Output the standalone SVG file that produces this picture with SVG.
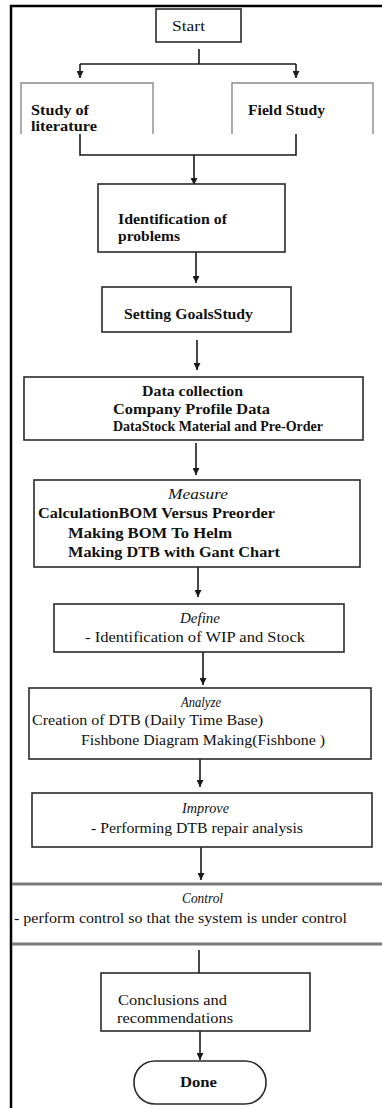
<svg xmlns="http://www.w3.org/2000/svg" width="382" height="1108" viewBox="0 0 382 1108">
<style>
.box{fill:#fff;stroke:#2a2a2a;stroke-width:1.6}
.lbox{fill:none;stroke:#8a8a8a;stroke-width:1.4}
.ctl{fill:none;stroke:#7a7a7a;stroke-width:3}
.b{font-family:"Liberation Serif",serif;font-weight:bold;font-size:15px;fill:#111}
.r{font-family:"Liberation Serif",serif;font-size:15px;fill:#111}
.i{font-family:"Liberation Serif",serif;font-style:italic;font-size:14px;fill:#111}
.c{stroke:#1a1a1a;stroke-width:1.6;fill:none}
.a{marker-end:url(#arr)}
</style>
<defs>
<marker id="arr" markerUnits="userSpaceOnUse" markerWidth="7" markerHeight="7" refX="7" refY="3.5" orient="auto">
<path d="M0,0 L7,3.5 L0,7 z" fill="#1a1a1a"/>
</marker>
</defs>
<rect width="382" height="1108" fill="#fff"/>
<path d="M11,1108 V6 H382" fill="none" stroke="#000" stroke-width="2.5"/>
<g id="connectors">
<path class="c" d="M199,49 V64 M80,64 H296"/>
<path class="c a" d="M80,64 V78"/>
<path class="c a" d="M296,64 V78"/>
<path class="c" d="M80,134 V155 H296 V134"/>
<path class="c a" d="M194,155 V185"/>
<path class="c a" d="M196,252 V283"/>
<path class="c a" d="M197,340 V370"/>
<path class="c a" d="M196,443 V475"/>
<path class="c a" d="M198,567 V597"/>
<path class="c a" d="M203,652 V685"/>
<path class="c a" d="M200,759 V787"/>
<path class="c a" d="M201,847 V880"/>
<path class="c a" d="M199,950 V983"/>
<path class="c a" d="M200,1031 V1060"/>
</g>
<g id="start">
<rect class="box" x="156" y="9" width="85" height="33"/>
<text class="r" x="172" y="31" font-size="16" textLength="33" lengthAdjust="spacingAndGlyphs">Start</text>
</g>
<g id="literature">
<path class="lbox" d="M21,134 V83 H153 V134"/>
<text class="b" x="31" y="115" textLength="58" lengthAdjust="spacingAndGlyphs">Study of</text>
<text class="b" x="31" y="131" textLength="66" lengthAdjust="spacingAndGlyphs">literature</text>
</g>
<g id="field">
<path class="lbox" d="M232,134 V83 H373 V134"/>
<text class="b" x="248" y="115" textLength="77" lengthAdjust="spacingAndGlyphs">Field Study</text>
</g>
<g id="identification">
<rect class="box" x="98" y="184" width="187" height="68"/>
<text class="b" x="118" y="224" textLength="109" lengthAdjust="spacingAndGlyphs">Identification of</text>
<text class="b" x="118" y="241" textLength="62" lengthAdjust="spacingAndGlyphs">problems</text>
</g>
<g id="goals">
<rect class="box" x="102" y="287" width="189" height="45"/>
<text class="b" x="124" y="319" textLength="129" lengthAdjust="spacingAndGlyphs">Setting GoalsStudy</text>
</g>
<g id="data">
<rect class="box" x="24" y="377" width="339" height="63"/>
<text class="b" x="142" y="396" textLength="101" lengthAdjust="spacingAndGlyphs">Data collection</text>
<text class="b" x="113" y="414" textLength="157" lengthAdjust="spacingAndGlyphs">Company Profile Data</text>
<text class="b" x="113" y="431" textLength="210" lengthAdjust="spacingAndGlyphs">DataStock Material and Pre-Order</text>
</g>
<g id="measure">
<rect class="box" x="34" y="480" width="326" height="87"/>
<text class="i" x="168" y="499" font-size="15" textLength="60" lengthAdjust="spacingAndGlyphs">Measure</text>
<text class="b" x="38" y="518" textLength="237" lengthAdjust="spacingAndGlyphs">CalculationBOM Versus Preorder</text>
<text class="b" x="68" y="538" textLength="164" lengthAdjust="spacingAndGlyphs">Making BOM To Helm</text>
<text class="b" x="68" y="557" textLength="212" lengthAdjust="spacingAndGlyphs">Making DTB with Gant Chart</text>
</g>
<g id="define">
<rect class="box" x="54" y="604" width="290" height="48"/>
<text class="i" x="180" y="623" textLength="40" lengthAdjust="spacingAndGlyphs">Define</text>
<text class="r" x="85" y="642" textLength="220" lengthAdjust="spacingAndGlyphs">- Identification of WIP and Stock</text>
</g>
<g id="analyze">
<rect class="box" x="29" y="688" width="342" height="71"/>
<text class="i" x="181" y="707" textLength="40" lengthAdjust="spacingAndGlyphs">Analyze</text>
<text class="r" x="32" y="725" textLength="231" lengthAdjust="spacingAndGlyphs">Creation of DTB (Daily Time Base)</text>
<text class="r" x="81" y="745" textLength="244" lengthAdjust="spacingAndGlyphs">Fishbone Diagram Making(Fishbone )</text>
</g>
<g id="improve">
<rect class="box" x="32" y="793" width="340" height="54"/>
<text class="i" x="182" y="813" textLength="47" lengthAdjust="spacingAndGlyphs">Improve</text>
<text class="r" x="91" y="833" textLength="212" lengthAdjust="spacingAndGlyphs">- Performing DTB repair analysis</text>
</g>
<g id="control">
<path class="ctl" d="M12,884 H382 M12,944 H382"/>
<text class="i" x="182" y="903" textLength="41" lengthAdjust="spacingAndGlyphs">Control</text>
<text class="r" x="14" y="923" textLength="333" lengthAdjust="spacingAndGlyphs">- perform control so that the system is under control</text>
</g>
<g id="conclusions">
<rect class="box" x="101" y="973" width="209" height="58"/>
<text class="r" x="118" y="1005" textLength="109" lengthAdjust="spacingAndGlyphs">Conclusions and</text>
<text class="r" x="117" y="1023" textLength="116" lengthAdjust="spacingAndGlyphs">recommendations</text>
</g>
<g id="done">
<rect class="box" x="134" y="1061" width="132" height="43" rx="21" ry="21"/>
<text class="b" x="180" y="1087" textLength="37" lengthAdjust="spacingAndGlyphs">Done</text>
</g>
</svg>
